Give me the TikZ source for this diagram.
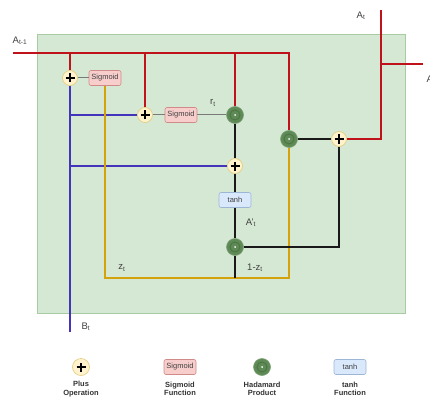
\documentclass[tikz,border=0pt]{standalone}
\usepackage{fontspec}
\setmainfont{Liberation Sans}
\definecolor{cellfill}{HTML}{D5E8D4}
\definecolor{celldraw}{HTML}{A9CBA1}
\definecolor{linered}{HTML}{C0121A}
\definecolor{lineblue}{HTML}{4433BB}
\definecolor{lineyellow}{HTML}{D4A30C}
\definecolor{linegray}{HTML}{7A7A7A}
\definecolor{plusfill}{HTML}{FFF2CC}
\definecolor{plusdraw}{HTML}{E2CB7A}
\definecolor{sigfill}{HTML}{F8CECC}
\definecolor{sigdraw}{HTML}{D08B88}
\definecolor{hadfill}{HTML}{5E8A55}
\definecolor{hadring}{HTML}{4B7444}
\definecolor{tanhfill}{HTML}{DAE8FC}
\definecolor{tanhdraw}{HTML}{9DB6D6}
\definecolor{labelgray}{HTML}{404040}
\begin{document}
\begin{tikzpicture}[x=1pt, y=-1pt,
    every node/.style={font=\fontsize{7.5}{8.5}\selectfont, text=labelgray},
    plusop/.style={circle, fill=plusfill, draw=plusdraw, line width=0.6pt, minimum size=15pt, inner sep=0pt,
        path picture={
            \draw[black, line width=1.4pt] ([xshift=-4.5pt]path picture bounding box.center) -- ([xshift=4.5pt]path picture bounding box.center);
            \draw[black, line width=1.4pt] ([yshift=-4.5pt]path picture bounding box.center) -- ([yshift=4.5pt]path picture bounding box.center);}},
    hadop/.style={circle, fill=hadfill, draw=hadfill!80!white, line width=0.6pt, minimum size=17pt, inner sep=0pt,
        path picture={
            \draw[hadring, line width=0.9pt] (path picture bounding box.center) circle (5pt);
            \fill[white] (path picture bounding box.center) circle (1pt);}},
    sigbox/.style={rounded corners=2pt, fill=sigfill, draw=sigdraw, line width=0.6pt, minimum width=32pt, minimum height=15pt, inner sep=1pt},
    tanhbox/.style={rounded corners=2pt, fill=tanhfill, draw=tanhdraw, line width=0.6pt, minimum width=32pt, minimum height=15pt, inner sep=1pt},
    varlabel/.style={font=\fontsize{9.5}{10}\selectfont},
    legendtext/.style={font=\bfseries\fontsize{7.5}{8.5}\selectfont, align=center, text=black!80},
    redline/.style={draw=linered, line width=1.3pt},
    blueline/.style={draw=lineblue, line width=1.3pt},
    yellowline/.style={draw=lineyellow, line width=1.3pt},
    blackline/.style={draw=black!90, line width=1.3pt},
    grayline/.style={draw=linegray, line width=1pt}]

    \useasboundingbox (0,0) rectangle (430,398);
    \fill[white] (0,0) rectangle (430,398);

    \draw[fill=cellfill, draw=celldraw, line width=0.6pt] (37,34) rectangle (405,313);

    \coordinate (in) at (13,53);
    \coordinate (outtop) at (381,10);
    \coordinate (outright) at (423,64);
    \coordinate (bin) at (70,332);
    \coordinate (zbot) at (105,278);

    \node[plusop] (plus1) at (70,78) {};
    \node[sigbox] (sig1) at (105,78) {Sigmoid};
    \node[plusop] (plus2) at (145,115) {};
    \node[sigbox] (sig2) at (181,115) {Sigmoid};
    \node[hadop] (had1) at (235,115) {};
    \node[plusop] (plus4) at (235,166) {};
    \node[tanhbox] (tanh) at (235,200) {tanh};
    \node[hadop] (had3) at (235,247) {};
    \node[hadop] (had2) at (289,139) {};
    \node[plusop] (plus3) at (339,139) {};

    \draw[blueline] (bin) -- (plus1);
    \draw[blueline] (plus2) -- (plus2 -| bin);
    \draw[blueline] (plus4) -- (plus4 -| bin);

    \draw[yellowline] (sig1) -- (zbot) -| (had2);

    \draw[redline] (in) -| (had2);
    \draw[redline] (plus1) -- (plus1 |- in);
    \draw[redline] (plus2) -- (plus2 |- in);
    \draw[redline] (had1) -- (had1 |- in);
    \draw[redline] (plus3) -| (outtop);
    \draw[redline] (outright) -- (outtop |- outright);

    \draw[grayline] (plus1) -- (sig1);
    \draw[grayline] (plus2) -- (sig2) -- (had1);

    \draw[blackline] (had1) -- (plus4) -- (tanh) -- (had3);
    \draw[blackline] (had2) -- (plus3);
    \draw[blackline] (plus3) |- (had3);
    \draw[blackline] (had3) -- (had3 |- zbot);

    \node[varlabel] (lblin) at (20,41) {A\textsubscript{t-1}};
    \node[varlabel] (lblout) at (361,16) {A\textsubscript{t}};
    \node[varlabel, anchor=west] (lblright) at (423,80) {A\textsubscript{t}};
    \node[varlabel] (lblr) at (213,103) {r\textsubscript{t}};
    \node[varlabel] (lblz) at (122,268) {z\textsubscript{t}};
    \node[varlabel] (lblomz) at (255,268) {1-z\textsubscript{t}};
    \node[varlabel] (lblcand) at (251,223) {A'\textsubscript{t}};
    \node[varlabel] (lblb) at (86,327) {B\textsubscript{t}};

    \node[plusop, minimum size=17pt] (plusL) at (81,367) {};
    \node[sigbox] (sigL) at (180,367) {Sigmoid};
    \node[hadop] (hadL) at (262,367) {};
    \node[tanhbox] (tanhL) at (350,367) {tanh};

    \node[legendtext] (plusT) at (81,389) {Plus\\Operation};
    \node[legendtext] (sigT) at (180,389) {Sigmoid\\Function};
    \node[legendtext] (hadT) at (262,389) {Hadamard\\Product};
    \node[legendtext] (tanhT) at (350,389) {tanh\\Function};

\end{tikzpicture}
\end{document}
